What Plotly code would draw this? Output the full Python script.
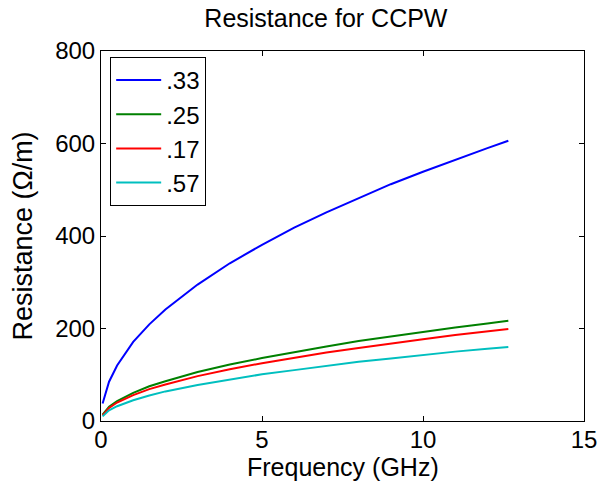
import plotly.graph_objects as go

freq = [0.05, 0.25, 0.5, 1, 1.5, 2, 3, 4, 5, 6, 7, 8, 9, 10, 11, 12, 12.65]
r_33 = [38, 85, 120, 171, 209, 241, 295, 341, 381, 418, 451, 482, 512, 539, 565, 590, 606]
r_25 = [14, 31, 43, 61, 75, 86, 106, 122, 136, 149, 161, 173, 183, 193, 202, 211, 217]
r_17 = [12, 28, 40, 56, 69, 79, 97, 112, 125, 137, 148, 158, 168, 177, 186, 194, 199]
r_57 = [10, 23, 32, 45, 55, 64, 78, 90, 101, 110, 119, 128, 135, 143, 150, 156, 160]

series = [(".33", r_33, "#0000ff"), (".25", r_25, "#008000"),
          (".17", r_17, "#ff0000"), (".57", r_57, "#00bfbf")]

font = "Liberation Sans, Arial, Helvetica, sans-serif"
fig = go.Figure()
for name, vals, col in series:
    fig.add_trace(go.Scatter(x=freq, y=vals, name=name, mode="lines",
                             line=dict(color=col, width=2)))

axis_common = dict(showline=True, linecolor="black", linewidth=1, mirror="ticks",
                   ticks="inside", ticklen=5, tickcolor="black", showgrid=False,
                   zeroline=False, automargin=False,
                   tickfont=dict(size=24, color="black", family=font))
fig.update_layout(
    width=598, height=482,
    margin=dict(l=101, r=14, t=51, b=61),
    paper_bgcolor="white", plot_bgcolor="white",
    font=dict(family=font, color="black"),
    title=dict(text="Resistance for CCPW", x=0.545, xanchor="center", y=0.963,
               yanchor="middle", font=dict(size=25, color="black")),
    xaxis=dict(range=[0, 15], tickvals=[0, 5, 10, 15], ticklabelstandoff=-3,
               **axis_common),
    yaxis=dict(range=[0, 800], tickvals=[0, 200, 400, 600, 800],
               title=dict(text="Resistance (Ω/m)", font=dict(size=27), standoff=14),
               **axis_common),
    legend=dict(x=0.019, y=0.984, xanchor="left", yanchor="top",
                bordercolor="black", borderwidth=1, bgcolor="white",
                font=dict(size=24, color="black"), itemwidth=45,
                tracegroupgap=0),
    showlegend=True,
    annotations=[dict(text="Frequency (GHz)", xref="paper", yref="paper",
                      x=0.5, y=-0.124, xanchor="center", yanchor="middle",
                      showarrow=False, font=dict(size=25, color="black"))],
)
fig.write_html("out.html")
